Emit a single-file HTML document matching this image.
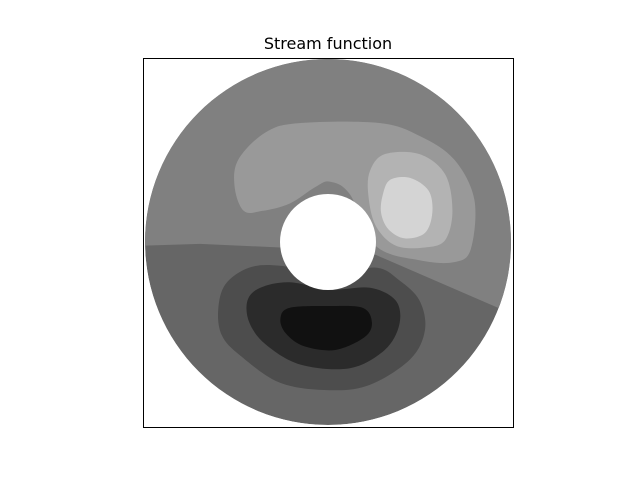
<!DOCTYPE html>
<html><head><meta charset="utf-8"><style>
html,body{margin:0;padding:0;background:#fff;width:640px;height:480px;overflow:hidden}
</style></head><body>
<svg id="chart" width="640" height="480" xmlns="http://www.w3.org/2000/svg">
<text x="328" y="49" text-anchor="middle" font-family="DejaVu Sans, Liberation Sans, sans-serif" font-size="16" fill="#000">Stream function</text>
<defs><clipPath id="disk"><circle cx="328" cy="242" r="183"/></clipPath></defs>
<g id="plot" clip-path="url(#disk)"></g>
<circle cx="328" cy="242" r="48" fill="#fff"/>
<rect x="143.5" y="58.5" width="370" height="369" fill="none" stroke="#000" stroke-width="1"/>
</svg>
<script>
// contour level fill colors (grayscale)
const levelColors = ["#666666","#808080","#999999","#b3b3b3","#d4d4d4","#4d4d4d","#2b2b2b","#111111"];
const levelNames = ["level-lower","level-upper","level-high-1","level-high-2","level-high-3","level-low-1","level-low-2","level-low-3"];
// contour boundaries in data coords (x,y in [-1,1], unit = outer radius)
const upperRegion = [[-1.1,-0.02],[-1.0,-0.02],[-0.70,-0.01],[-0.26,-0.03],[0.26,-0.07],[0.93,-0.36],[1.1,-0.40],[1.1,1.1],[-1.1,1.1]];
const high1 = [[-0.51,0.30],[-0.49,0.45],[-0.34,0.60],[-0.15,0.65],[0.28,0.65],[0.50,0.58],[0.69,0.45],[0.80,0.23],[0.78,-0.04],[0.69,-0.11],[0.50,-0.10],[0.26,-0.02],[0.12,0.26],[0.01,0.33],[-0.07,0.30],[-0.21,0.21],[-0.36,0.17],[-0.46,0.17]];
const high2 = [[0.22,0.26],[0.23,0.39],[0.31,0.48],[0.50,0.48],[0.64,0.37],[0.68,0.17],[0.64,0.01],[0.53,-0.03],[0.37,-0.02],[0.26,0.09]];
const high3 = [[0.30,0.26],[0.34,0.34],[0.45,0.35],[0.55,0.28],[0.57,0.16],[0.53,0.05],[0.42,0.02],[0.33,0.07],[0.29,0.16]];
const low1 = [[-0.60,-0.37],[-0.56,-0.23],[-0.43,-0.14],[-0.26,-0.13],[0.01,-0.18],[0.26,-0.14],[0.39,-0.21],[0.50,-0.32],[0.53,-0.48],[0.45,-0.64],[0.23,-0.78],[0.01,-0.81],[-0.26,-0.77],[-0.48,-0.62],[-0.58,-0.51]];
const low2 = [[-0.44,-0.32],[-0.37,-0.25],[-0.21,-0.22],[0.01,-0.26],[0.23,-0.25],[0.37,-0.32],[0.39,-0.45],[0.31,-0.59],[0.12,-0.69],[-0.15,-0.67],[-0.34,-0.56],[-0.43,-0.44]];
const low3 = [[-0.26,-0.42],[-0.21,-0.36],[0.01,-0.35],[0.19,-0.36],[0.24,-0.44],[0.20,-0.52],[0.04,-0.59],[-0.13,-0.57],[-0.23,-0.50]];

const cx=328, cy=242, R=183;
function sx(x){return cx+x*R;}
function sy(y){return cy-y*R;}
const NS="http://www.w3.org/2000/svg";
const g=document.getElementById('plot');
function smooth(pts){
  const p=pts.map(a=>[sx(a[0]),sy(a[1])]);const n=p.length;let d=`M${p[0][0]},${p[0][1]}`;
  for(let i=0;i<n;i++){const p0=p[(i-1+n)%n],p1=p[i],p2=p[(i+1)%n],p3=p[(i+2)%n];
    const c1=[p1[0]+(p2[0]-p0[0])/6,p1[1]+(p2[1]-p0[1])/6],c2=[p2[0]-(p3[0]-p1[0])/6,p2[1]-(p3[1]-p1[1])/6];
    d+=`C${c1[0]},${c1[1]} ${c2[0]},${c2[1]} ${p2[0]},${p2[1]}`;}
  return d+'Z';
}
function poly(pts){return 'M'+pts.map(a=>sx(a[0])+','+sy(a[1])).join('L')+'Z';}
const base=document.createElementNS(NS,'circle');
base.setAttribute('cx',cx);base.setAttribute('cy',cy);base.setAttribute('r',R);base.setAttribute('fill',levelColors[0]);


g.appendChild(base);
const shapes=[[upperRegion,1,false],[high1,2,true],[high2,3,true],[high3,4,true],[low1,5,true],[low2,6,true],[low3,7,true]];
shapes.forEach(s=>{
  const el=document.createElementNS(NS,'path');
  el.setAttribute('d',s[2]?smooth(s[0]):poly(s[0]));
  el.setAttribute('fill',levelColors[s[1]]);
  
  
  g.appendChild(el);
});
</script>
</body></html>
